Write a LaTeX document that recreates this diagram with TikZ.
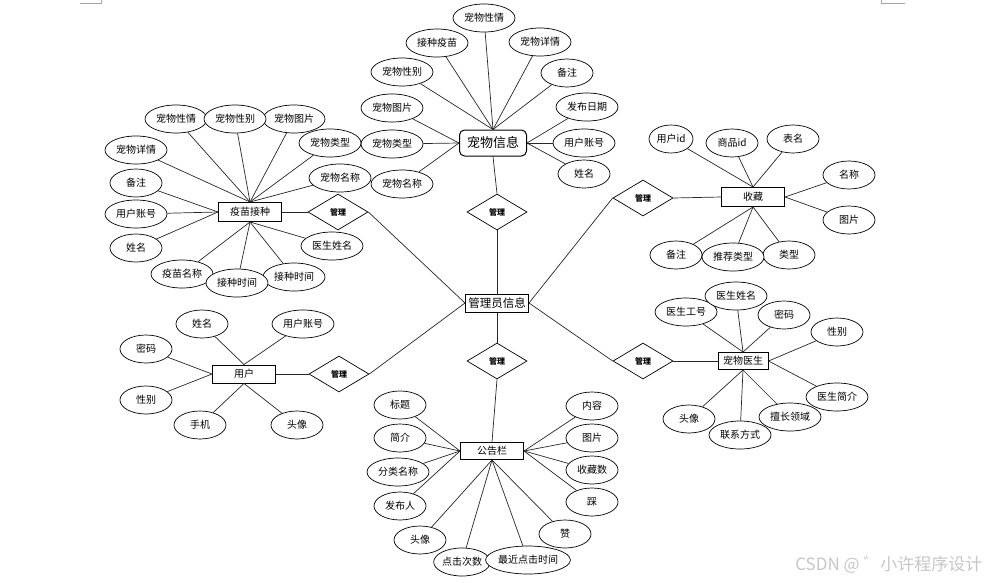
\documentclass[tikz,border=0pt]{standalone}
\usepackage{fontspec}
\setmainfont{Noto Sans CJK SC}
\usetikzlibrary{shapes.geometric}

\begin{document}
\begin{tikzpicture}[
    x=1pt, y=-1pt,
    attr/.style={draw, ellipse, fill=white, line width=0.7pt,
                 minimum width=#1, minimum height=28pt, inner sep=0pt,
                 font=\fontsize{10}{12}\selectfont},
    attr/.default=52pt,
    ent/.style={draw, fill=white, line width=1pt, minimum width=63pt,
                minimum height=19pt, inner sep=0pt,
                font=\fontsize{10}{12}\selectfont},
    rel/.style={draw, diamond, fill=white, line width=0.7pt,
                minimum width=60pt, minimum height=36pt, inner sep=0pt,
                font=\fontsize{8}{10}\selectfont\bfseries},
    link/.style={draw=black!85, line width=0.7pt}
  ]
  \useasboundingbox (0,0) rectangle (991,582);

  % page marks
  \draw[gray!70, line width=0.6pt] (80,3) -- (101,3) -- (101,0);
  \draw[gray!70, line width=0.6pt] (905,3) -- (881,3) -- (881,0);

  % centre
  \node[ent, minimum height=18pt, font=\fontsize{11.5}{13}\selectfont]
    (admin) at (497,303) {管理员信息};

  % Pet info
  \node[ent, rounded corners=5pt, minimum width=67pt, minimum height=26pt,
        font=\fontsize{13}{15}\selectfont] (pet) at (493,143) {宠物信息};
  \node[rel] (relpet) at (497,212) {管理};
  \node[attr=62pt] (pxb) at (402,72) {宠物性别};
  \node[attr=62pt] (pjz) at (437,43) {接种疫苗};
  \node[attr=62pt] (pxq) at (484,18) {宠物性情};
  \node[attr=62pt] (pxiang) at (540,42) {宠物详情};
  \node[attr] (pbz) at (567,73) {备注};
  \node[attr=62pt] (ptp) at (392,108) {宠物图片};
  \node[attr=62pt] (plx) at (392,144) {宠物类型};
  \node[attr=62pt] (pmc) at (402,184) {宠物名称};
  \node[attr=62pt] (prq) at (587,107) {发布日期};
  \node[attr=62pt] (pzh) at (584,143) {用户账号};
  \node[attr] (pxm) at (584,174) {姓名};

  % Vaccination
  \node[ent] (vac) at (250,212) {疫苗接种};
  \node[rel] (relvac) at (338,212) {管理};
  \node[attr=62pt] (vxq) at (176,119) {宠物性情};
  \node[attr=62pt] (vtp) at (294,119) {宠物图片};
  \node[attr=62pt] (vxb) at (235,119) {宠物性别};
  \node[attr=62pt] (vxiang) at (136,150) {宠物详情};
  \node[attr=62pt] (vlx) at (330,143) {宠物类型};
  \node[attr=62pt] (vmc) at (340,178) {宠物名称};
  \node[attr] (vbz) at (136,183) {备注};
  \node[attr=62pt] (vzh) at (136,214) {用户账号};
  \node[attr] (vxm) at (136,248) {姓名};
  \node[attr=62pt] (vys) at (332,246) {医生姓名};
  \node[attr=62pt] (vym) at (182,274) {疫苗名称};
  \node[attr=62pt] (vsj2) at (294,277) {接种时间};
  \node[attr=62pt] (vsj1) at (237,283) {接种时间};

  % Favourites
  \node[ent] (fav) at (753,197) {收藏};
  \node[rel] (relfav) at (643,198) {管理};
  \node[attr=44pt] (fuid) at (671,139) {用户id};
  \node[attr] (fsp) at (732,143) {商品id};
  \node[attr] (fbm) at (793,139) {表名};
  \node[attr] (fmc) at (849,175) {名称};
  \node[attr] (ftp) at (849,220) {图片};
  \node[attr] (fbz) at (676,255) {备注};
  \node[attr] (flx) at (789,255) {类型};
  \node[attr=62pt] (ftj) at (733,257) {推荐类型};

  % Vet
  \node[ent, minimum width=50pt, minimum height=17pt] (doc) at (743,361) {宠物医生};
  \node[rel] (reldoc) at (643,361) {管理};
  \node[attr=62pt] (dgh) at (686,312) {医生工号};
  \node[attr=62pt] (dxm) at (736,296) {医生姓名};
  \node[attr] (dmm) at (784,315) {密码};
  \node[attr] (dxb) at (837,332) {性别};
  \node[attr=62pt] (djj) at (837,397) {医生简介};
  \node[attr] (dtx) at (689,419) {头像};
  \node[attr=62pt] (dsc) at (790,417) {擅长领域};
  \node[attr=62pt] (dlx) at (740,435) {联系方式};

  % User
  \node[ent, minimum height=18pt] (user) at (244,374) {用户};
  \node[rel] (reluser) at (339,374) {管理};
  \node[attr] (uxm) at (202,324) {姓名};
  \node[attr=62pt] (uzh) at (303,324) {用户账号};
  \node[attr] (umm) at (146,349) {密码};
  \node[attr] (uxb) at (146,400) {性别};
  \node[attr] (usj) at (200,425) {手机};
  \node[attr] (utx) at (297,425) {头像};

  % Notice board
  \node[rel] (relnote) at (497,361) {管理};
  \node[ent, minimum height=17pt] (note) at (492,451) {公告栏};
  \node[attr] (nbt) at (400,405) {标题};
  \node[attr] (njj) at (400,438) {简介};
  \node[attr=62pt] (nfl) at (398,472) {分类名称};
  \node[attr] (nfb) at (400,506) {发布人};
  \node[attr] (ntx) at (420,540) {头像};
  \node[attr=56pt] (ndj) at (462,562) {点击次数};
  \node[attr=80pt] (nzj) at (528,560) {最近点击时间};
  \node[attr] (nnr) at (592,406) {内容};
  \node[attr] (ntp) at (592,438) {图片};
  \node[attr] (nsc) at (592,470) {收藏数};
  \node[attr] (nc) at (592,502) {踩};
  \node[attr] (nz) at (565,534) {赞};

  % Relations
  \draw[link] (pet.south) -- (relpet.north);
  \draw[link] (relpet.south) -- (admin.north);
  \draw[link] (admin.south) -- (relnote.north);
  \draw[link] (relnote.south) -- (note.north);
  \draw[link] (vac.east) -- (relvac.west);
  \draw[link] (relvac.east) -- (admin.west);
  \draw[link] (user.east) -- (reluser.west);
  \draw[link] (reluser.east) -- (admin.west);
  \draw[link] (admin.east) -- (relfav.west);
  \draw[link] (relfav.east) -- (fav.west);
  \draw[link] (admin.east) -- (reldoc.west);
  \draw[link] (reldoc.east) -- (doc.west);

  % Attributes
  \draw[link] (pet.north) -- (pxb);
  \draw[link] (pet.north) -- (pjz);
  \draw[link] (pet.north) -- (pxq);
  \draw[link] (pet.north) -- (pxiang);
  \draw[link] (pet.north) -- (pbz);
  \draw[link] (pet.west) -- (ptp);
  \draw[link] (pet.west) -- (plx);
  \draw[link] (pet.west) -- (pmc);
  \draw[link] (pet.east) -- (prq);
  \draw[link] (pet.east) -- (pzh);
  \draw[link] (pet.east) -- (pxm);

  \draw[link] (vac.north) -- (vxq);
  \draw[link] (vac.north) -- (vxb);
  \draw[link] (vac.north) -- (vtp);
  \draw[link] (vac.north) -- (vxiang);
  \draw[link] (vac.north) -- (vlx);
  \draw[link] (vac.north) -- (vmc);
  \draw[link] (vac.west) -- (vbz);
  \draw[link] (vac.west) -- (vzh);
  \draw[link] (vac.west) -- (vxm);
  \draw[link] (vac.south) -- (vys);
  \draw[link] (vac.south) -- (vym);
  \draw[link] (vac.south) -- (vsj1);
  \draw[link] (vac.south) -- (vsj2);

  \draw[link] (fav.north) -- (fuid);
  \draw[link] (fav.north) -- (fsp);
  \draw[link] (fav.north) -- (fbm);
  \draw[link] (fav.east) -- (fmc);
  \draw[link] (fav.east) -- (ftp);
  \draw[link] (fav.south) -- (fbz);
  \draw[link] (fav.south) -- (ftj);
  \draw[link] (fav.south) -- (flx);

  \draw[link] (doc.north) -- (dgh);
  \draw[link] (doc.north) -- (dxm);
  \draw[link] (doc.north) -- (dmm);
  \draw[link] (doc.east) -- (dxb);
  \draw[link] (doc.east) -- (djj);
  \draw[link] (doc.south) -- (dtx);
  \draw[link] (doc.south) -- (dlx);
  \draw[link] (doc.south) -- (dsc);

  \draw[link] (user.north) -- (uxm);
  \draw[link] (user.north) -- (uzh);
  \draw[link] (user.west) -- (umm);
  \draw[link] (user.west) -- (uxb);
  \draw[link] (user.south) -- (usj);
  \draw[link] (user.south) -- (utx);

  \draw[link] (note.west) -- (nbt);
  \draw[link] (note.west) -- (njj);
  \draw[link] (note.west) -- (nfl);
  \draw[link] (note.west) -- (nfb);
  \draw[link] (note.south) -- (ntx);
  \draw[link] (note.south) -- (ndj);
  \draw[link] (note.south) -- (nzj);
  \draw[link] (note.south) -- (nz);
  \draw[link] (note.east) -- (nnr);
  \draw[link] (note.east) -- (ntp);
  \draw[link] (note.east) -- (nsc);
  \draw[link] (note.east) -- (nc);

  % watermark
  \node[anchor=east, text=gray!45, font=\fontsize{17}{19}\selectfont]
    (mark) at (986,565) {CSDN @ ゛小许程序设计};
\end{tikzpicture}
\end{document}
